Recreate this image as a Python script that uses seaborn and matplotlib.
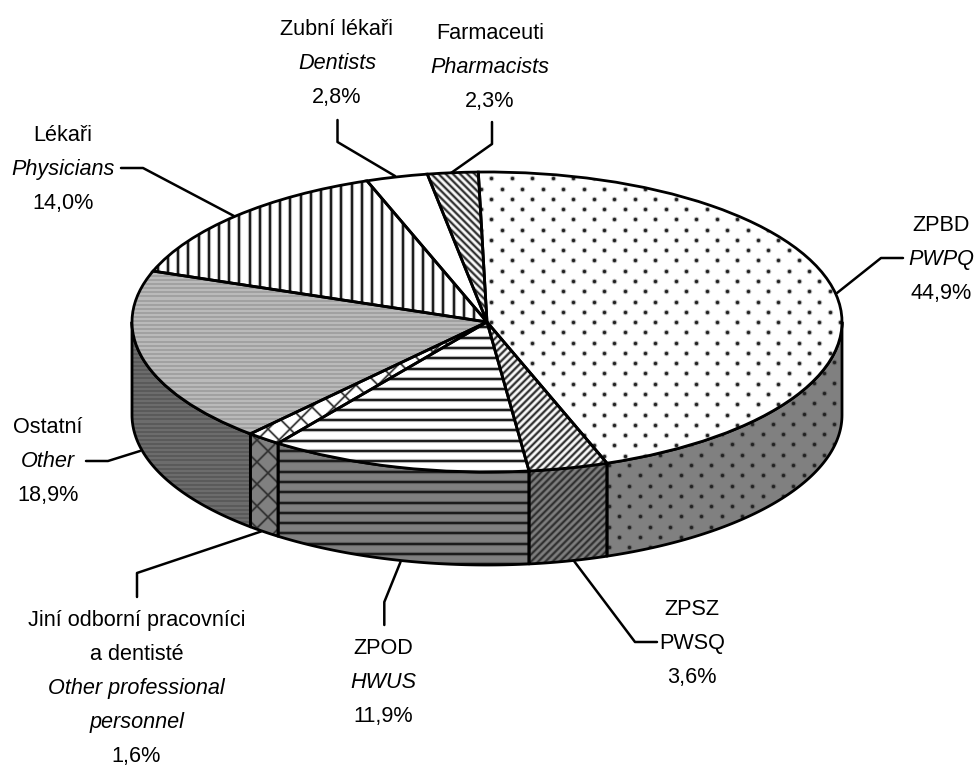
import numpy as np
import seaborn as sns
import matplotlib.pyplot as plt
from matplotlib.collections import LineCollection
from matplotlib.transforms import Affine2D

sns.set_theme(style='white')
plt.rcParams['font.family'] = ['Liberation Sans', 'DejaVu Sans']

# shares in percent, clockwise from the top
names = ['ZPBD', 'ZPSZ', 'ZPOD', 'Jini', 'Ostatni', 'Lekari', 'Zubni', 'Farmaceuti']
shares = [44.9, 3.6, 11.9, 1.6, 18.9, 14.0, 2.8, 2.3]

# (text, italic) lines of each label
labels = {
    'ZPBD': [('ZPBD', False), ('PWPQ', True), ('44,9%', False)],
    'ZPSZ': [('ZPSZ', False), ('PWSQ', False), ('3,6%', False)],
    'ZPOD': [('ZPOD', False), ('HWUS', True), ('11,9%', False)],
    'Jini': [('Jiní odborní pracovníci', False), ('a dentisté', False),
             ('Other professional', True), ('personnel', True), ('1,6%', False)],
    'Ostatni': [('Ostatní', False), ('Other', True), ('18,9%', False)],
    'Lekari': [('Lékaři', False), ('Physicians', True), ('14,0%', False)],
    'Zubni': [('Zubní lékaři', False), ('Dentists', True), ('2,8%', False)],
    'Farmaceuti': [('Farmaceuti', False), ('Pharmacists', True), ('2,3%', False)],
}

# label centre x, first baseline y
label_pos = {'ZPBD': (941, 231), 'ZPSZ': (692, 615), 'ZPOD': (383.5, 654), 'Jini': (136.5, 625.7),
             'Ostatni': (48, 433), 'Lekari': (63, 141.3), 'Zubni': (337, 35.3), 'Farmaceuti': (490, 38.7)}
line_step = 34

# leader lines in pixels
leaders = {'ZPBD': [(903, 258), (881, 258), (837, 293)],
           'ZPSZ': [(657, 642), (635, 642), (574, 561)],
           'ZPOD': [(384.3, 625), (384.3, 602), (400.5, 562)],
           'Jini': [(137, 597), (137, 573), (261, 531.5)],
           'Ostatni': [(86, 461), (108, 461), (140, 451)],
           'Lekari': [(121, 168), (143, 168), (234, 216)],
           'Zubni': [(337.5, 120), (337.5, 142), (395, 176)],
           'Farmaceuti': [(492, 122), (492, 144), (451, 173)]}

cx, cy, rx, ry, depth = 487, 322, 355, 150, 93
W, H = 976, 767
start = -1.4  # clockwise from top

fig = plt.figure(figsize=(W / 100, H / 100), dpi=100)
ax = fig.add_axes([0, 0, 1, 1])
px = Affine2D().scale(1, -1).translate(0, H)  # image pixels to display


def clip_to(artist, clip):
    if isinstance(clip, tuple):
        artist.set_clip_path(clip[0], clip[1])
    else:
        artist.set_clip_path(clip)


def lines(clip, kind, step, phase, color, lw, z, halo=True):
    r = np.arange(-1200 + phase % step, 2200, step)
    if kind == '-':
        segs = [[(0, v), (W, v)] for v in r]
    elif kind == '|':
        segs = [[(v, 0), (v, H)] for v in r]
    elif kind == '/':
        segs = [[(v, 0), (v - H, H)] for v in r]
    else:
        segs = [[(v, 0), (v + H, H)] for v in r]
    if halo:
        soft = LineCollection(segs, colors=color, linewidths=lw * 2, alpha=0.3, transform=px, zorder=z)
        ax.add_collection(soft, autolim=False)
        clip_to(soft, clip)
    lc = LineCollection(segs, colors=color, linewidths=lw, transform=px, zorder=z)
    ax.add_collection(lc, autolim=False)
    clip_to(lc, clip)


def dots(clip, x0, y0, z):
    xs, ys = [], []
    for y in np.arange(y0 % 10.27, H, 10.27):
        off = 10.25 if (round((y - y0) / 10.27) % 2) else 0
        for x in np.arange((x0 + off) % 20.5, W, 20.5):
            xs.append(x)
            ys.append(y)
    soft = ax.scatter(xs, ys, s=16, color='#333333', alpha=0.3, linewidths=0, transform=px, zorder=z)
    clip_to(soft, clip)
    sc = ax.scatter(xs, ys, s=6, color='#222222', linewidths=0, transform=px, zorder=z)
    clip_to(sc, clip)


def texture(name, clip, side, z):
    if name == 'ZPBD':
        if side:
            dots(clip, 629.3, 465, z)
        else:
            dots(clip, 573.3, 383.7, z)
    elif name == 'ZPSZ':
        lines(clip, '/', 7.2, 3, '#303030', 1.3, z)
    elif name == 'ZPOD':
        lines(clip, '-', 10.3, 353.3, '#1c1c1c', 1.5, z)
    elif name == 'Jini':
        lines(clip, '/', 22, 5, '#303030', 1.0, z)
        lines(clip, '\\', 22, 5, '#303030', 1.0, z)
    elif name == 'Ostatni':
        lines(clip, '-', 4.1, 0, '#555555' if side else '#9a9a9a', 1.1, z, halo=False)
    elif name == 'Lekari':
        lines(clip, '|', 10.2, 348, '#1c1c1c', 1.5, z)
    elif name == 'Farmaceuti':
        lines(clip, '\\', 7.2, 3, '#303030', 1.3, z)


top_colors = {n: 'white' for n in names}
top_colors['Ostatni'] = '#bababa'
side_colors = {n: '#808080' for n in names}
side_colors['Ostatni'] = '#6c6c6c'

# side wall, front half only
edges = start + np.cumsum([0] + shares) * 3.6
for i, name in enumerate(names):
    a, b = max(edges[i], 90), min(edges[i + 1], 270)
    if a >= b:
        continue
    t = np.radians(np.linspace(a, b, 80))
    x, y = np.sin(t), np.cos(t)
    wall = ax.fill_between(x, y, y - depth / ry, color=side_colors[name], linewidth=0, zorder=1)
    texture(name, (wall.get_paths()[0], ax.transData), True, 2)
    ax.fill_between(x, y, y - depth / ry, facecolor='none', edgecolor='black', linewidth=2.0, zorder=3)

# top face
wedges, _ = ax.pie(shares, startangle=90 - start, counterclock=False,
                   colors=[top_colors[n] for n in names],
                   wedgeprops=dict(linewidth=0, zorder=4))
for w, name in zip(wedges, names):
    texture(name, w, False, 5)
ax.pie(shares, startangle=90 - start, counterclock=False,
       wedgeprops=dict(fill=False, edgecolor='black', linewidth=2.0, zorder=6))

ax.set_aspect('auto')
ax.set_xlim(-cx / rx, (W - cx) / rx)
ax.set_ylim((cy - H) / ry, cy / ry)
ax.axis('off')

for name in names:
    pts = np.array(leaders[name])
    ax.plot(pts[:, 0], pts[:, 1], color='black', lw=1.8, transform=px, zorder=0, clip_on=False)
    x0, y0 = label_pos[name]
    for k, (s, it) in enumerate(labels[name]):
        ax.text(x0, y0 + k * line_step, s, transform=px, ha='center', va='baseline', fontsize=15.6,
                style='italic' if it else 'normal', color='black', zorder=7)

fig.savefig('out.png', dpi=100, facecolor='white')
